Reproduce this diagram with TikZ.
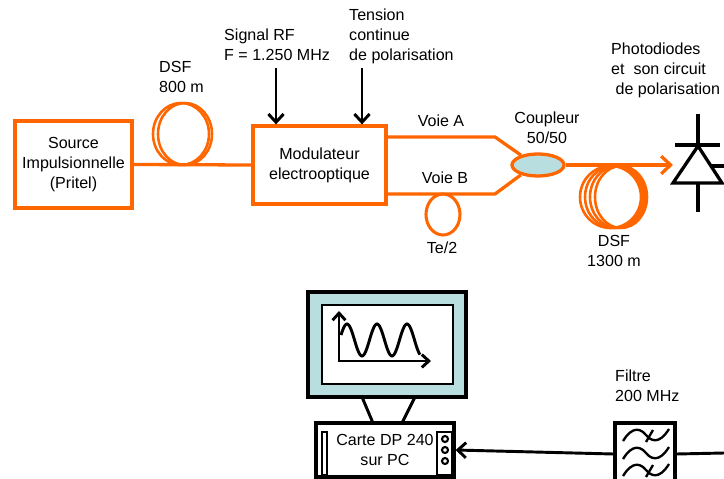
\documentclass[tikz,border=0pt]{standalone}
\usepackage{fontspec}
\setmainfont{Liberation Sans}
\usetikzlibrary{arrows.meta,shapes.geometric}
\definecolor{fibre}{HTML}{FF6600}
\definecolor{ecran}{HTML}{B9DEE0}
\tikzset{
  fib/.style={draw=fibre,line width=2.8pt},
  bobine/.style={draw=fibre,line width=2.2pt},
  boite/.style={fib,rectangle,fill=white,align=center},
  lab/.style={inner sep=0pt,align=center},
  noir/.style={draw=black,line width=2.5pt},
  sig/.style={noir,-{Straight Barb[length=7pt,width=13pt]}},
}
\begin{document}
\begin{tikzpicture}[x=0.03cm,y=-0.03cm,font=\fontsize{13.7}{17}\selectfont]
\clip (0,0) rectangle (724,479);
% fibres enroulees
\foreach \l/\r in {153/209,158/212}
  \draw[bobine] ({(\l+\r)/2},134) ellipse ({(\r-\l)/2} and 31);
\foreach \l/\r in {580/641,585/643,590/645,595/647}
  \draw[bobine] ({(\l+\r)/2},197) ellipse ({(\r-\l)/2} and 31);
\draw[bobine,line width=2.6pt] (443,214.5) ellipse (17 and 20.5);

\node[boite,minimum width=3.51cm,minimum height=2.61cm] (src) at (73.5,164.5) {Source\\Impulsionnelle\\(Pritel)};
\node[boite,minimum width=3.99cm,minimum height=2.34cm] (mod) at (319.5,165) {Modulateur\\electrooptique};
\node[fib,ellipse,fill=ecran,minimum width=1.56cm,minimum height=0.66cm,inner sep=0pt] (cpl) at (538,165) {};

\node[lab,anchor=west,align=left] (dsfa) at (159,77) {DSF\\800 m};
\node[lab,anchor=west,align=left] (rf) at (224,45) {Signal RF\\F = 1.250 MHz};
\node[lab,anchor=west,align=left] (dc) at (349,36.5) {Tension\\continue\\de polarisation};
\node[lab] (va) at (441,121) {Voie A};
\node[lab] (vb) at (445,178) {Voie B};
\node[lab] (te) at (442,248) {Te/2};
\node[lab] (cpll) at (547,128) {Coupleur\\50/50};
\node[lab] (dsfb) at (614,251) {DSF\\1300 m};
\node[lab,anchor=west,align=left] (pdl) at (611,70) {Photodiodes\\et\ \ son circuit\\\ de polarisation};
\node[lab,anchor=west,align=left] (fl) at (615,386) {Filtre\\200 MHz};

\coordinate (rfin) at (276,68);
\coordinate (dcin) at (362,68);
\coordinate (pd) at (673,166);
\coordinate (fout) at (724,453);

\draw[fib] (src.east) -- (mod.west);
\draw[fib] ([yshift=0.84cm]mod.east) -- (495,137) -- (cpl.150);
\draw[fib] ([yshift=-0.87cm]mod.east) -- (495,194) -- (cpl.210);
\draw[fib,-{Straight Barb[length=8pt,width=15pt]}] (cpl.east) -- (cpl.east -| pd);
\draw[sig] (rfin) -- (rfin |- mod.north);
\draw[sig] (dcin) -- (dcin |- mod.north);

% photodiode
\draw[noir,line width=2.8pt,line join=miter] (673,183) -- (722,183) -- (698,146) -- cycle;
\draw[noir,line width=2.8pt] (675,145) -- (720,145) (698,114) -- (698,145)
  (698,183) -- (698,212) (711,166) -- (724,166);

% ecran
\draw[noir,line width=2.8pt,fill=ecran] (308,292) rectangle (466,397);
\draw[noir,line width=2pt,fill=white] (322,305) rectangle (453,384);
\draw[noir,{Straight Barb[length=6pt,width=11pt]}-{Straight Barb[length=6pt,width=11pt]}]
  (339,311) -- (339,361) -- (431,361);
\draw[noir] plot[domain=341:420,samples=80,smooth] (\x,{340-16*cos((\x-347)*12)});
\draw[noir] (362,397) -- (373,423) (415,397) -- (402,423);

\node[noir,draw,line width=2.8pt,minimum width=4.14cm,minimum height=1.62cm,align=center] (pc) at (385,450) {Carte DP 240\\sur PC};
\draw[line width=1pt] (322,432) rectangle (327,475);
\draw[line width=1pt] (437,432) rectangle (452,475);
\foreach \y in {439,450,461}
  \draw[line width=1.8pt] (445,\y) circle (3);

% filtre
\node[noir,draw,line width=2.8pt,minimum width=1.8cm,minimum height=1.86cm] (filt) at (645,454) {};
\foreach \y in {435,453,470}
  \draw[line width=2pt] (623,\y+6) .. controls (633,\y-10) and (641,\y-6) .. (646,\y)
    .. controls (651,\y+6) and (659,\y+10) .. (669,\y-6);
\foreach \y in {435,470}
  \draw[line width=2pt] (646,\y+7) -- (653,\y-5);
\draw[sig] (filt.west) -- (pc.east);
\draw[noir] (filt.east) -- (fout);
\end{tikzpicture}
\end{document}
